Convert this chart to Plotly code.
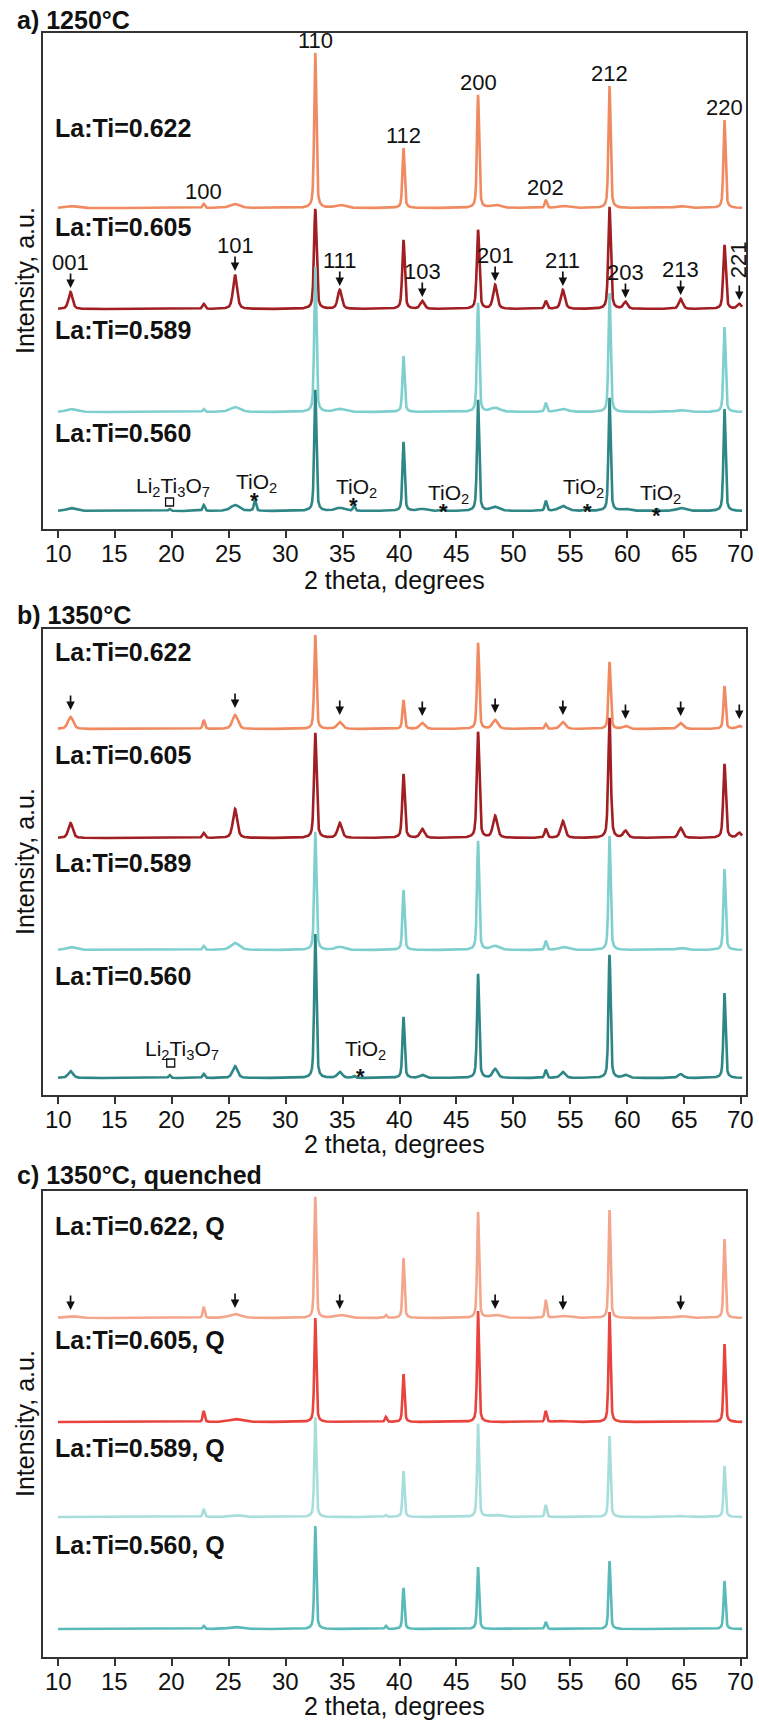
import numpy as np
import plotly.graph_objects as go

# ---------------------------------------------------------------------------
# Reflection list (2 theta, degrees) and Miller indices
# ---------------------------------------------------------------------------
TWO_THETA = [11.1, 19.8, 22.8, 25.55, 27.3, 32.6, 34.75, 36.0, 38.8, 40.35, 42.0, 43.9,
             46.9, 48.4, 52.85, 54.35, 56.5, 58.45, 59.85, 62.6, 64.7, 68.55, 69.85]
HKL = ["001", "", "100", "101", "", "110", "111", "", "", "112", "103", "",
       "200", "201", "202", "211", "", "212", "203", "", "213", "220", "221"]
# 1 = superstructure reflection, 0 = fundamental / impurity reflection
SUPERLATTICE = [1, 0, 0, 1, 0, 0, 1, 0, 0, 0, 1, 0, 0, 1, 0, 1, 0, 0, 1, 0, 1, 0, 1]

SAMPLES = ["La:Ti=0.622", "La:Ti=0.605", "La:Ti=0.589", "La:Ti=0.560"]
X_TICKS = [10, 15, 20, 25, 30, 35, 40, 45, 50, 55, 60, 65, 70]

# Peak intensities (a.u.), one value per reflection in TWO_THETA
# a) 1250 C
A_0622 = [2, 0, 4, 4, 0, 155, 3, 0, 0, 60, 0, 0, 113, 3, 8, 2, 0, 122, 0, 0, 2, 88, 0]
A_0605 = [17, 0, 5, 34, 0, 100, 19, 0, 0, 69, 8, 0, 79, 24, 8, 19, 0, 102, 7, 0, 10, 64, 5]
A_0589 = [3, 0, 3, 5, 0, 145, 3, 0, 0, 56, 0, 0, 109, 4, 9, 3, 0, 119, 0, 0, 2, 85, 0]
A_0560 = [3, 2, 6, 6, 11, 121, 3, 5, 0, 69, 2, 2, 111, 4, 10, 5, 3, 113, 2, 2, 3, 102, 0]
# b) 1350 C
B_0622 = [12, 0, 9, 14, 0, 94, 7, 0, 0, 29, 6, 0, 86, 9, 5, 7, 0, 67, 3, 0, 6, 43, 3]
B_0605 = [15, 0, 5, 29, 0, 105, 15, 0, 0, 64, 9, 0, 106, 22, 9, 17, 0, 120, 7, 0, 10, 74, 5]
B_0589 = [3, 0, 4, 7, 0, 118, 3, 0, 0, 60, 0, 0, 109, 4, 9, 3, 0, 114, 0, 0, 2, 81, 0]
B_0560 = [7, 3, 4, 12, 0, 144, 6, 2, 0, 61, 3, 0, 104, 9, 8, 6, 0, 123, 3, 0, 4, 85, 0]
# c) 1350 C, quenched
C_0622 = [2, 0, 11, 4, 0, 121, 3, 0, 3, 60, 0, 0, 106, 3, 18, 2, 0, 108, 0, 0, 2, 79, 0]
C_0605 = [0, 0, 11, 3, 0, 104, 0, 0, 5, 48, 0, 0, 111, 0, 11, 1, 0, 110, 0, 0, 0, 78, 0]
C_0589 = [0, 0, 8, 2, 0, 100, 0, 0, 2, 46, 0, 0, 93, 2, 12, 0, 0, 81, 0, 0, 1, 51, 0]
C_0560 = [0, 0, 3, 2, 0, 103, 0, 0, 3, 41, 0, 0, 62, 0, 7, 0, 0, 68, 0, 0, 0, 48, 0]

# Peak widths (FWHM, degrees): (fundamental, superstructure) per pattern
WIDTH_A = [(0.22, 1.0), (0.26, 0.42), (0.22, 1.0), (0.22, 0.9)]
WIDTH_B = [(0.22, 0.55), (0.26, 0.45), (0.22, 0.9), (0.22, 0.5)]
WIDTH_C = [(0.20, 1.2), (0.20, 1.2), (0.20, 1.2), (0.20, 1.2)]

# ---------------------------------------------------------------------------
# Styling / stacking
# ---------------------------------------------------------------------------
W, H = 759, 1722
FONT = "Liberation Sans, Arial, sans-serif"
COLORS_AB = ["#F08A60", "#A11E22", "#7FCFCF", "#2F8686"]
COLORS_C = ["#F4A68C", "#E8433D", "#A7DEDC", "#5ABABA"]

PANELS = [
    dict(title="a) 1250°C", heights=[A_0622, A_0605, A_0589, A_0560], widths=WIDTH_A,
         colors=COLORS_AB, offsets=[321, 220, 117, 18], top=33, bottom=529,
         suffix="", title_y=20, xtitle_y=580, label_y=[128, 227, 330, 433]),
    dict(title="b) 1350°C", heights=[B_0622, B_0605, B_0589, B_0560], widths=WIDTH_B,
         colors=COLORS_AB, offsets=[366, 257, 145, 17], top=629, bottom=1095,
         suffix="", title_y=615, xtitle_y=1144, label_y=[652, 755, 863, 976]),
    dict(title="c) 1350°C, quenched", heights=[C_0622, C_0605, C_0589, C_0560], widths=WIDTH_C,
         colors=COLORS_C, offsets=[339, 235, 140, 28], top=1191, bottom=1657,
         suffix=", Q", title_y=1175, xtitle_y=1706, label_y=[1226, 1340, 1448, 1545]),
]

X_LEFT, X_RIGHT = 43, 746
X_RANGE = [8.68, 70.44]


def py(ypx):
    return 1 - ypx / H


def px_x(val):
    return (X_LEFT + (val - X_RANGE[0]) / (X_RANGE[1] - X_RANGE[0]) * (X_RIGHT - X_LEFT)) / W


def pattern(x, heights, widths):
    """Pseudo-Voigt sum over the reflection list."""
    y = np.zeros_like(x)
    w_main, w_super = widths
    for pos, h, sup in zip(TWO_THETA, heights, SUPERLATTICE):
        if h <= 0:
            continue
        w = w_super if sup else w_main
        d = (x - pos) / (w / 2)
        lor = 1 / (1 + d ** 2)
        gau = np.exp(-np.log(2) * d ** 2)
        y += h * (0.5 * lor + 0.5 * gau)
    return y


x = np.round(np.arange(10.0, 70.1001, 0.01), 2)

fig = go.Figure()
annotations = []
layout = {}

for i, p in enumerate(PANELS):
    n = "" if i == 0 else str(i + 1)
    xa, ya = "x" + n, "y" + n
    for k in range(4):
        y = p["offsets"][k] + pattern(x, p["heights"][k], p["widths"][k])
        fig.add_trace(go.Scatter(x=x, y=y, mode="lines", xaxis=xa, yaxis=ya,
                                 line=dict(color=p["colors"][k], width=2.6),
                                 showlegend=False, hoverinfo="skip"))
    layout["xaxis" + n] = dict(
        domain=[X_LEFT / W, X_RIGHT / W], range=X_RANGE, anchor=ya,
        tickvals=X_TICKS, ticks="outside", ticklen=7, tickwidth=1.5,
        tickcolor="#333", showticklabels=False,
        showline=True, mirror=True, linecolor="#333", linewidth=1.5,
        showgrid=False, zeroline=False)
    layout["yaxis" + n] = dict(
        domain=[py(p["bottom"]), py(p["top"])], range=[0, p["bottom"] - p["top"]],
        anchor=xa, showticklabels=False, ticks="", showline=True, mirror=True,
        linecolor="#333", linewidth=1.5, showgrid=False, zeroline=False)

    # tick labels
    for t in X_TICKS:
        annotations.append(dict(text=str(t), xref="paper", yref="paper", x=px_x(t),
                                y=py(p["bottom"] + 24), xanchor="center", yanchor="middle",
                                showarrow=False, font=dict(family=FONT, size=24, color="#111")))
    # panel title, axis titles, sample labels
    annotations.append(dict(text="<b>%s</b>" % p["title"], xref="paper", yref="paper",
                            x=15 / W, y=py(p["title_y"]), xanchor="left", yanchor="middle",
                            showarrow=False, font=dict(family=FONT, size=25, color="#111")))
    annotations.append(dict(text="2 theta, degrees", xref="paper", yref="paper",
                            x=(X_LEFT + X_RIGHT) / 2 / W, y=py(p["xtitle_y"]),
                            xanchor="center", yanchor="middle", showarrow=False,
                            font=dict(family=FONT, size=25, color="#111")))
    annotations.append(dict(text="Intensity, a.u.", xref="paper", yref="paper",
                            x=25 / W, y=py((p["top"] + p["bottom"]) / 2), textangle=-90,
                            xanchor="center", yanchor="middle", showarrow=False,
                            font=dict(family=FONT, size=25, color="#111")))
    for k, s in enumerate(SAMPLES):
        annotations.append(dict(text="<b>%s%s</b>" % (s, p["suffix"]), xref="paper", yref="paper",
                                x=53 / W, y=py(p["label_y"][k]), xanchor="left",
                                yanchor="middle", showarrow=False,
                                font=dict(family=FONT, size=25, color="#111")))


def arrow(panel_idx, series_idx, refl, gap, text=None, text_shift=25, angle=0):
    p = PANELS[panel_idx]
    n = "" if panel_idx == 0 else str(panel_idx + 1)
    j = TWO_THETA.index(refl)
    tip = p["offsets"][series_idx] + p["heights"][series_idx][j] + gap
    annotations.append(dict(x=refl, y=tip, xref="x" + n, yref="y" + n, text="",
                            showarrow=True, ax=0, ay=-16, arrowhead=2, arrowsize=1,
                            arrowwidth=1.7, arrowcolor="#111"))
    if text:
        annotations.append(dict(x=refl, y=tip, xref="x" + n, yref="y" + n, text=text,
                                showarrow=False, yshift=text_shift, textangle=angle,
                                font=dict(family=FONT, size=22, color="#111")))


# a) indexed reflections of the 0.622 pattern
for refl in [22.8, 32.6, 40.35, 46.9, 52.85, 58.45, 68.55]:
    j = TWO_THETA.index(refl)
    annotations.append(dict(x=refl, y=PANELS[0]["offsets"][0] + A_0622[j], xref="x", yref="y",
                            text=HKL[j], showarrow=False, yanchor="bottom", yshift=-2,
                            font=dict(family=FONT, size=22, color="#111")))
# a) superstructure reflections of the 0.605 pattern
for refl in [11.1, 25.55, 34.75, 42.0, 48.4, 54.35, 59.85, 64.7]:
    arrow(0, 1, refl, 4, HKL[TWO_THETA.index(refl)])
arrow(0, 1, 69.85, 4, "221", text_shift=40, angle=-90)
# b) superstructure reflections of the 0.622 pattern
for refl in [11.1, 25.55, 34.75, 42.0, 48.4, 54.35, 59.85, 64.7, 69.85]:
    arrow(1, 0, refl, 7)
# c) superstructure reflections of the 0.622 pattern
for refl in [11.1, 25.55, 34.75, 48.4, 54.35, 64.7]:
    arrow(2, 0, refl, 6)

# impurity phases
LI2TI3O7 = "Li<sub>2</sub>Ti<sub>3</sub>O<sub>7</sub>"
TIO2 = "TiO<sub>2</sub>"
IMPURITY_LABELS = [
    # panel, text, text x, text y, marker x, marker y, marker kind
    (0, LI2TI3O7, 20.1, 42, 19.8, 27, "square"),
    (0, TIO2, 27.4, 46, 27.3, 34, "star"),
    (0, TIO2, 36.2, 41, 36.0, 29, "star"),
    (0, TIO2, 44.3, 35, 43.9, 23, "star"),
    (0, TIO2, 56.2, 41, 56.5, 23, "star"),
    (0, TIO2, 62.9, 35, 62.6, 20, "star"),
    (1, LI2TI3O7, 20.9, 45, 19.9, 32, "square"),
    (1, TIO2, 37.0, 45, 36.6, 25, "star"),
]
for pi, txt, tx, ty, mx, my, kind in IMPURITY_LABELS:
    n = "" if pi == 0 else str(pi + 1)
    annotations.append(dict(x=tx, y=ty, xref="x" + n, yref="y" + n, text=txt, showarrow=False,
                            font=dict(family=FONT, size=21, color="#111")))
    if kind == "square":
        fig.add_trace(go.Scatter(x=[mx], y=[my], mode="markers", xaxis="x" + n, yaxis="y" + n,
                                 marker=dict(symbol="square-open", size=8, color="#111",
                                             line=dict(width=1.3, color="#111")),
                                 showlegend=False, hoverinfo="skip"))
    else:
        annotations.append(dict(x=mx, y=my, xref="x" + n, yref="y" + n, text="<b>*</b>",
                                showarrow=False, yshift=-6,
                                font=dict(family=FONT, size=22, color="#111")))

fig.update_layout(width=W, height=H, margin=dict(l=0, r=0, t=0, b=0),
                  paper_bgcolor="white", plot_bgcolor="white",
                  annotations=annotations, **layout)
fig.write_html("out.html")
